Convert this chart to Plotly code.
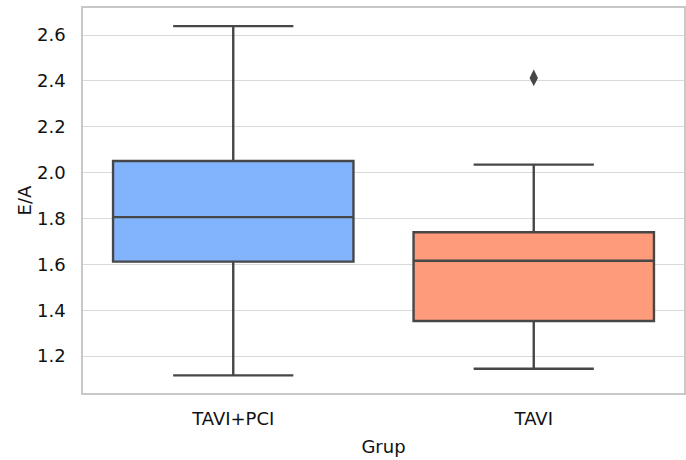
import plotly.graph_objects as go

categories = ["TAVI+PCI", "TAVI"]
q1 = [1.612, 1.353]
median = [1.806, 1.616]
q3 = [2.051, 1.740]
lower_whisker = [1.116, 1.145]
upper_whisker = [2.639, 2.035]
outlier_cat = ["TAVI"]
outlier_val = [2.413]
colors = ["#82b3fd", "#fe9b7b"]
edge = "#474747"

fig = go.Figure()
for i, c in enumerate(categories):
    fig.add_trace(go.Box(
        x=[c], q1=[q1[i]], median=[median[i]], q3=[q3[i]],
        lowerfence=[lower_whisker[i]], upperfence=[upper_whisker[i]],
        fillcolor=colors[i], line=dict(color=edge, width=2.4),
        width=0.8, whiskerwidth=0.5, boxpoints=False, showlegend=False,
        hoverinfo="skip",
    ))

fig.add_trace(go.Scatter(
    x=outlier_cat, y=outlier_val, mode="markers",
    marker=dict(symbol="diamond-tall", size=12, color=edge),
    showlegend=False, hoverinfo="skip",
))

font = dict(family="DejaVu Sans", size=18, color="#111111")
fig.update_layout(
    width=686, height=460,
    margin=dict(l=83, r=2, t=8, b=67, autoexpand=False),
    paper_bgcolor="white", plot_bgcolor="white",
    font=font,
)
fig.update_xaxes(
    type="category", range=[-0.5, 1.5],
    showline=True, mirror=True, linecolor="#c8c8c8", linewidth=1.5,
    showgrid=False, ticks="outside", ticklen=9, tickcolor="rgba(0,0,0,0)",
    title=dict(text="Grup", font=font, standoff=12),
    tickfont=font,
)
fig.update_yaxes(
    range=[1.039, 2.718], tickvals=[1.2, 1.4, 1.6, 1.8, 2.0, 2.2, 2.4, 2.6],
    ticktext=["1.2", "1.4", "1.6", "1.8", "2.0", "2.2", "2.4", "2.6"],
    showline=True, mirror=True, linecolor="#c8c8c8", linewidth=1.5,
    showgrid=True, gridcolor="#dadada", gridwidth=1.2, zeroline=False,
    ticks="outside", ticklen=12, tickcolor="rgba(0,0,0,0)",
    title=dict(text="E/A", font=font, standoff=1),
    tickfont=font,
)
fig.write_html(
    "out.html",
    config={"displayModeBar": False},
    post_script="document.body.style.margin='0';document.body.style.padding='0';",
)
